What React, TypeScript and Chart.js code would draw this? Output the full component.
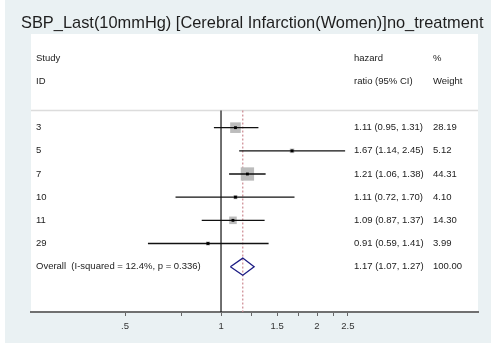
import React, { useEffect, useRef } from 'react';
import { Chart, registerables } from 'chart.js';

Chart.register(...registerables);

const TITLE = 'SBP_Last(10mmHg) [Cerebral Infarction(Women)]no_treatment';
const STUDIES = ['3', '5', '7', '10', '11', '29'];
const HR = [1.11, 1.67, 1.21, 1.11, 1.09, 0.91];
const LOWER = [0.95, 1.14, 1.06, 0.72, 0.87, 0.59];
const UPPER = [1.31, 2.45, 1.38, 1.7, 1.37, 1.41];
const WEIGHTS = [28.19, 5.12, 44.31, 4.1, 14.3, 3.99];

const OVERALL_LABEL = 'Overall  (I-squared = 12.4%, p = 0.336)';
const OVERALL_HR = 1.17;
const OVERALL_LOWER = 1.07;
const OVERALL_UPPER = 1.27;
const OVERALL_WEIGHT = 100.0;

const HEADER_STUDY = ['Study', 'ID'];
const HEADER_CI = ['hazard', 'ratio (95% CI)'];
const HEADER_WEIGHT = ['%', 'Weight'];

const TICK_VALUES = [0.5, 0.75, 1, 1.25, 1.5, 1.75, 2, 2.25, 2.5];
const TICK_LABELS = ['.5', '', '1', '', '1.5', '', '2', '', '2.5'];

const X_MIN = 0.2536;
const X_MAX = 6.395;
const NULL_VALUE = 1;

const FONT = '"Liberation Sans", Arial, Helvetica, sans-serif';

const fmt = (v: number) => v.toFixed(2);

export default function App() {
  const canvasRef = useRef<HTMLCanvasElement | null>(null);

  useEffect(() => {
    document.body.style.margin = '0';
    const canvas = canvasRef.current;
    if (!canvas) return;

    const rows = STUDIES.map((_, i) => i + 1);
    const overallRow = STUDIES.length + 1;
    const diamondHalf = 0.37;
    const lineTop = 0.26;

    const bgPlugin = {
      id: 'forestBg',
      beforeDraw(chart: any) {
        const { ctx, chartArea: a, width, height } = chart;
        ctx.save();
        ctx.fillStyle = '#ffffff';
        ctx.fillRect(0, 0, width, height);
        ctx.fillStyle = '#eaf1f3';
        ctx.fillRect(5, 0, width - 5, height);
        ctx.fillStyle = '#ffffff';
        ctx.fillRect(a.left, a.top, a.right - a.left, a.bottom - a.top);
        ctx.fillStyle = '#1e1e1e';
        ctx.font = `16.4px ${FONT}`;
        ctx.textBaseline = 'middle';
        ctx.textAlign = 'left';
        ctx.fillText(TITLE, 21, 23);
        ctx.restore();
      },
      afterDatasetsDraw(chart: any) {
        const { ctx, chartArea: a } = chart;
        const y = chart.scales.y;
        const xStudy = a.left + 5;
        const xCI = a.right - 124;
        const xW = a.right - 45;
        ctx.save();
        ctx.fillStyle = '#222222';
        ctx.font = `9.5px ${FONT}`;
        ctx.textBaseline = 'middle';
        ctx.textAlign = 'left';
        [-2, -1].forEach((r, k) => {
          const py = y.getPixelForValue(r);
          ctx.fillText(HEADER_STUDY[k], xStudy, py);
          ctx.fillText(HEADER_CI[k], xCI, py);
          ctx.fillText(HEADER_WEIGHT[k], xW, py);
        });
        STUDIES.forEach((s, i) => {
          const py = y.getPixelForValue(rows[i]);
          ctx.fillText(s, xStudy, py);
          ctx.fillText(`${fmt(HR[i])} (${fmt(LOWER[i])}, ${fmt(UPPER[i])})`, xCI, py);
          ctx.fillText(fmt(WEIGHTS[i]), xW, py);
        });
        const po = y.getPixelForValue(overallRow);
        ctx.fillText(OVERALL_LABEL, xStudy, po);
        ctx.fillText(`${fmt(OVERALL_HR)} (${fmt(OVERALL_LOWER)}, ${fmt(OVERALL_UPPER)})`, xCI, po);
        ctx.fillText(fmt(OVERALL_WEIGHT), xW, po);
        ctx.restore();
      },
    };

    const ciSets = STUDIES.map((_, i) => ({
      data: [
        { x: LOWER[i], y: rows[i] },
        { x: UPPER[i], y: rows[i] },
      ],
      showLine: true,
      borderColor: '#111111',
      borderWidth: 1.3,
      pointRadius: 0,
      order: 3,
    }));

    const chart = new Chart(canvas, {
      type: 'scatter',
      data: {
        datasets: [
          {
            data: [
              { x: X_MIN, y: lineTop },
              { x: X_MAX, y: lineTop },
            ],
            showLine: true,
            borderColor: '#dcdcdc',
            borderWidth: 1.5,
            pointRadius: 0,
            order: 9,
          },
          {
            data: [
              { x: NULL_VALUE, y: lineTop },
              { x: NULL_VALUE, y: 9 },
            ],
            showLine: true,
            borderColor: '#111111',
            borderWidth: 1.2,
            pointRadius: 0,
            order: 8,
          },
          {
            data: [
              { x: OVERALL_HR, y: lineTop },
              { x: OVERALL_HR, y: 9 },
            ],
            showLine: true,
            borderColor: '#cc8890',
            borderWidth: 1.2,
            borderDash: [2, 2],
            pointRadius: 0,
            order: 7,
          },
          {
            data: HR.map((h, i) => ({ x: h, y: rows[i] })),
            pointStyle: 'rect',
            pointRadius: (c: any) => Math.SQRT2 * Math.sqrt(WEIGHTS[c.dataIndex] ?? 0),
            backgroundColor: '#bcbcbc',
            borderWidth: 0,
            order: 5,
          },
          ...ciSets,
          {
            data: HR.map((h, i) => ({ x: h, y: rows[i] })),
            pointStyle: 'rect',
            pointRadius: 2,
            backgroundColor: '#000000',
            borderWidth: 0,
            order: 1,
          },
          {
            data: [
              { x: OVERALL_LOWER, y: overallRow },
              { x: OVERALL_HR, y: overallRow - diamondHalf },
              { x: OVERALL_UPPER, y: overallRow },
              { x: OVERALL_HR, y: overallRow + diamondHalf },
              { x: OVERALL_LOWER, y: overallRow },
            ],
            showLine: true,
            borderColor: '#1c1c84',
            borderWidth: 1.3,
            pointRadius: 0,
            fill: false,
            order: 1,
          },
        ],
      },
      options: {
        animation: false,
        responsive: false,
        devicePixelRatio: 1,
        layout: { padding: { left: 31, right: 13, top: 34, bottom: 0 } },
        plugins: {
          legend: { display: false },
          tooltip: { enabled: false },
          title: { display: false },
        },
        elements: { line: { tension: 0 } },
        scales: {
          x: {
            type: 'logarithmic',
            min: X_MIN,
            max: X_MAX,
            afterBuildTicks: (scale: any) => {
              scale.ticks = TICK_VALUES.map((v) => ({ value: v }));
            },
            afterFit: (scale: any) => {
              scale.height = 31;
            },
            ticks: {
              autoSkip: false,
              maxRotation: 0,
              minRotation: 0,
              padding: 5,
              color: '#333333',
              font: { family: FONT, size: 9.5 },
              callback: (value: any) => {
                const idx = TICK_VALUES.indexOf(Number(value));
                return idx >= 0 ? TICK_LABELS[idx] : '';
              },
            },
            grid: {
              drawOnChartArea: false,
              drawTicks: true,
              tickLength: 4,
              color: '#666666',
              lineWidth: 1,
            },
            border: { display: true, color: '#707070', width: 2 },
          },
          y: {
            type: 'linear',
            min: -3.043,
            max: 8.957,
            reverse: true,
            display: false,
          },
        },
      },
      plugins: [bgPlugin],
    } as any);

    return () => chart.destroy();
  }, []);

  return (
    <div style={{ position: 'fixed', left: 0, top: 0, width: 491, height: 343 }}>
      <canvas ref={canvasRef} width={491} height={343} style={{ width: 491, height: 343 }} />
    </div>
  );
}
